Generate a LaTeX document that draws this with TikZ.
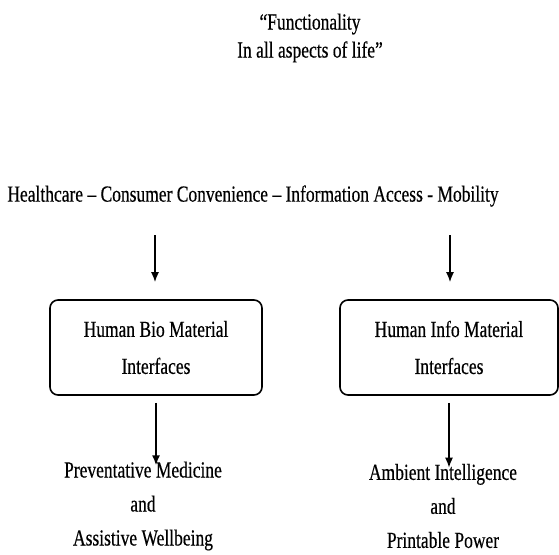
\documentclass[tikz,border=0pt]{standalone}
\usepackage{fontspec}
\setmainfont{Liberation Serif}[FakeStretch=0.76,FakeBold=0.4]
\usetikzlibrary{arrows.meta}

\begin{document}
\begin{tikzpicture}[x=1pt,y=-1pt,
    lbl/.style={align=center,inner sep=0pt},
    iface/.style={draw,line width=1.6pt,rounded corners=8pt,minimum width=212pt,minimum height=95pt,align=center,font=\fontsize{23}{37}\selectfont},
    flow/.style={line width=1.6pt,-{Latex[length=10pt,width=8pt]}}]
			\useasboundingbox (0,0) rectangle (559,554);
			\node[lbl,font=\fontsize{23}{28}\selectfont] (motto) at (310,38) {“Functionality\\In all aspects of life”};
			\node[lbl,font=\fontsize{23}{28}\selectfont] (needs) at (253,196) {Healthcare – Consumer Convenience – Information Access - Mobility};
			\node[iface] (bio) at (156,347.5) {Human Bio Material\\Interfaces};
			\node[iface,minimum width=218pt] (info) at (449,347.5) {Human Info Material\\Interfaces};
			\node[lbl,font=\fontsize{23}{34}\selectfont] (prev) at (143,506) {Preventative Medicine\\and\\Assistive Wellbeing};
			\node[lbl,font=\fontsize{23}{34}\selectfont] (amb) at (443,506) {Ambient Intelligence\\and\\Printable Power};
			% arrows from the needs line down to the interfaces
			\coordinate (hcL) at (155,235);
			\coordinate (hcR) at (450,235);
			\draw[flow,shorten >=17pt] (hcL) -- (hcL |- bio.north);
			\draw[flow,shorten >=17pt] (hcR) -- (hcR |- info.north);
			% arrows from the interfaces to the outcomes
			\draw[flow,shorten <=7pt,shorten >=-4pt] (bio.south) -- (bio.south |- prev.north);
			\draw[flow,shorten <=7pt,shorten >=-4pt] (info.south) -- (info.south |- amb.north);
		\end{tikzpicture}
\end{document}
